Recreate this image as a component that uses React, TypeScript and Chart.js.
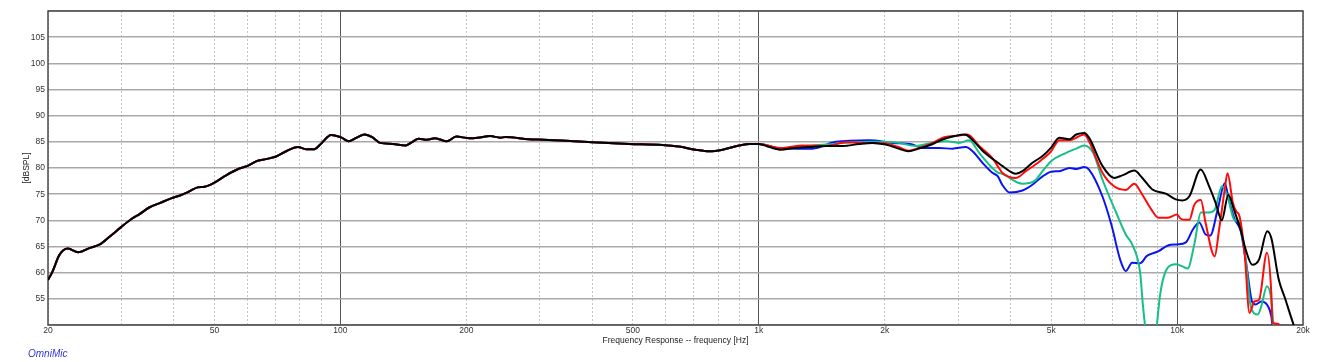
import React, { useEffect, useRef } from "react";
import { Chart, registerables } from "chart.js";

Chart.register(...registerables);

// Shared part of all four responses (20 Hz – 1 kHz)
const commonFreq = [
  20, 20.5, 21.3, 22.3, 23.6, 25.1, 26.6, 28.1, 29.9, 31.6, 33.1, 35.0, 37.0, 39.4, 41.2, 43.2,
  45.6, 47.3, 50.0, 53.3, 57.3, 60.0, 63.5, 66.4, 70.2, 74.2, 79.1, 82.8, 86.6, 89.8, 95.0,
  100.7, 104.6, 109.4, 114.2, 119.1, 124.4, 133.4, 143.1, 148.0, 153.8, 161.0, 168.3, 179.6,
  189.2, 203, 213, 228, 241, 248, 282, 305, 346, 401, 490, 588, 644, 706, 762, 820, 898, 953, 1000,
];
const commonSpl = [
  58.6, 60.2, 63.4, 64.6, 63.9, 64.7, 65.4, 66.9, 68.7, 70.2, 71.2, 72.5, 73.3, 74.2, 74.7, 75.4,
  76.3, 76.4, 77.2, 78.6, 79.9, 80.4, 81.4, 81.7, 82.2, 83.2, 84.0, 83.6, 83.6, 84.6, 86.3,
  85.8, 85.1, 85.8, 86.4, 85.9, 84.8, 84.6, 84.3, 84.9, 85.6, 85.4, 85.7, 85.1,
  86.0, 85.7, 85.8, 86.1, 85.8, 85.9, 85.5, 85.4, 85.2, 84.9, 84.6, 84.4, 84.1, 83.5, 83.2, 83.5, 84.3, 84.6, 84.6,
];

// Black curve above 1 kHz
const blackFreq = [
  1060, 1131, 1210, 1320, 1451, 1587, 1738, 1868, 2010, 2160, 2280, 2410, 2590, 2740, 2940, 3110,
  3220, 3470, 3730, 3820, 4120, 4270, 4510, 4770, 5000, 5230, 5530, 5740, 6000, 6160, 6630, 7070,
  7400, 7900, 8260, 8730, 9400, 9930, 10300, 10700, 11390, 11930, 12370, 12790, 13260, 13680,
  14190, 14590, 15130, 15700, 16430, 16800, 17500, 18100, 19000, 19600,
];
const blackSpl = [
  84.0, 83.5, 83.8, 84.0, 84.2, 84.2, 84.6, 84.8, 84.5, 83.7, 83.2, 83.7, 84.5, 85.4, 86.1, 86.4,
  85.6, 82.9, 81.0, 80.4, 78.9, 79.4, 81.0, 82.3, 83.9, 85.8, 85.5, 86.4, 86.7, 85.8, 80.4, 78.1,
  78.6, 79.5, 78.1, 75.9, 75.1, 74.0, 73.8, 74.6, 79.7, 76.5, 73.3, 70.0, 74.9, 72.0,
  68.2, 64.4, 61.5, 62.5, 67.9, 66.6, 58.7, 55.2, 50.0, 47.0,
];

// Red curve above 1 kHz
const redFreq = [
  1131, 1272, 1451, 1616, 1836, 2010, 2160, 2280, 2410, 2590, 2776, 3013, 3154, 3364, 3618, 3730,
  3820, 4120, 4350, 4700, 5000, 5230, 5530, 6000, 6160, 6630, 7070, 7540, 7900, 8260, 8660, 9030,
  9510, 10000, 10200, 10500, 10700, 11000, 11400, 11700, 12300, 12600, 13000, 13200, 13600,
  13850, 14100, 14500, 14900, 15300, 15700, 16400, 16800, 16900, 17500, 17700,
];
const redSpl = [
  83.8, 84.3, 84.2, 84.9, 84.8, 84.7, 84.0, 83.3, 83.8, 84.7, 85.9, 86.2, 86.4, 84.2, 81.9, 80.3,
  79.1, 78.1, 79.4, 81.3, 83.2, 85.3, 85.3, 86.4, 85.1, 79.1, 76.5, 75.8, 77.0, 74.9, 72.2, 70.5,
  70.5, 71.1, 70.3, 70.1, 70.1, 73.0, 73.9, 69.5, 63.1, 68.2, 75.9, 79.0, 73.3,
  71.7, 70.8, 63.8, 52.3, 54.5, 54.8, 63.8, 56.1, 50.4, 50.2, 48.0,
];

// Green curve above 1 kHz
const greenFreq = [
  1131, 1290, 1451, 1676, 1905, 2160, 2374, 2590, 2810, 3010, 3184, 3364, 3618, 3730, 3820, 4270,
  4560, 4770, 5000, 5430, 5740, 6000, 6300, 6630, 7160, 7540, 7810, 8160, 8290, 8470, 8700, 8870,
  9120, 9490, 9930, 10300, 10600, 11000, 11400, 11900, 12300, 12800, 13200, 13700, 14000, 14600,
  15000, 15600, 15900, 16400, 16800, 17000, 17300,
];
const greenSpl = [
  83.7, 84.2, 84.5, 84.9, 85.0, 84.8, 84.2, 84.8, 85.1, 84.8, 85.3, 82.9, 80.0, 79.1, 78.9, 77.0,
  77.5, 79.4, 81.3, 82.9, 83.7, 84.3, 82.9, 77.8, 71.4, 67.3, 65.4, 60.0, 53.6, 47.0, 42.0, 47.0,
  56.1, 60.9, 61.6, 61.2, 60.8, 65.5, 71.5, 71.5, 72.0, 76.5, 74.6, 70.1, 69.8, 62.5,
  53.6, 52.0, 53.6, 57.4, 54.8, 50.0, 47.0,
];

// Blue curve above 1 kHz
const blueFreq = [
  1131, 1344, 1529, 1836, 2088, 2330, 2463, 2700, 2904, 3126, 3244, 3426, 3618, 3730, 3820, 3980,
  4270, 4510, 4770, 5000, 5230, 5530, 5740, 6000, 6160, 6630, 6980, 7310, 7540, 7810, 8160, 8470,
  9030, 9510, 10000, 10500, 10900, 11300, 11700, 12000, 12500, 13000, 13300, 13700, 14200, 14700,
  15100, 15400, 15900, 16400, 16800, 16900, 17200,
];
const blueSpl = [
  83.7, 83.7, 85.0, 85.3, 84.8, 84.5, 83.8, 83.8, 83.7, 84.0, 83.2, 81.0, 79.1, 78.4, 76.8, 75.3,
  75.7, 76.8, 78.4, 79.3, 79.4, 80.0, 79.8, 80.2, 79.7, 74.6, 68.9, 62.5, 60.3, 61.9, 61.8, 63.2,
  64.1, 65.2, 65.4, 65.8, 68.2, 69.6, 67.3, 67.1, 72.0, 77.1, 73.9, 70.4, 67.9, 60.6,
  54.5, 53.9, 54.5, 53.9, 51.7, 50.0, 47.0,
];

// Axes
const xGridValues = [
  20, 30, 40, 50, 60, 70, 80, 90, 100, 200, 300, 400, 500, 600, 700, 800, 900, 1000,
  2000, 3000, 4000, 5000, 6000, 7000, 8000, 9000, 10000, 20000,
];
const xLabelValues = [20, 50, 100, 200, 500, 1000, 2000, 5000, 10000, 20000];
const xLabelTexts = ["20", "50", "100", "200", "500", "1k", "2k", "5k", "10k", "20k"];
const decadeValues = [100, 1000, 10000];
const yGridValues = [50, 55, 60, 65, 70, 75, 80, 85, 90, 95, 100, 105, 110];
const yLabelValues = [55, 60, 65, 70, 75, 80, 85, 90, 95, 100, 105];

const FONT = "'Liberation Sans', Arial, Helvetica, sans-serif";

const toPoints = (f: number[], s: number[]) => f.map((x, i) => ({ x, y: s[i] }));

export default function App() {
  const ref = useRef<HTMLCanvasElement | null>(null);

  useEffect(() => {
    document.body.style.margin = "0";
    const canvas = ref.current;
    if (!canvas) return;

    const frame = {
      id: "frame",
      beforeDatasetsDraw(chart: any) {
        const { ctx, chartArea: a } = chart;
        ctx.save();
        ctx.strokeStyle = "#4a4a4a";
        ctx.lineWidth = 1.5;
        ctx.strokeRect(a.left, a.top, a.right - a.left, a.bottom - a.top);
        ctx.restore();
      },
      afterDraw(chart: any) {
        const { ctx } = chart;
        ctx.save();
        ctx.font = `italic 10px ${FONT}`;
        ctx.fillStyle = "#3333dd";
        ctx.textBaseline = "middle";
        ctx.textAlign = "left";
        ctx.fillText("OmniMic", 28, 354);
        ctx.restore();
      },
    };

    const mk = (label: string, color: string, f: number[], s: number[]) => ({
      label,
      data: toPoints(commonFreq.concat(f), commonSpl.concat(s)),
      borderColor: color,
      backgroundColor: color,
      borderWidth: 2,
      pointRadius: 0,
      fill: false,
      cubicInterpolationMode: "monotone" as const,
    });

    // Chart.js draws the first dataset on top, so black comes first
    const chart = new Chart(canvas, {
      type: "line",
      data: {
        datasets: [
          mk("black", "#000000", blackFreq, blackSpl),
          mk("red", "#ff0a0a", redFreq, redSpl),
          mk("green", "#14bf8a", greenFreq, greenSpl),
          mk("blue", "#0a14f0", blueFreq, blueSpl),
        ],
      },
      options: {
        responsive: false,
        animation: false,
        devicePixelRatio: 1,
        layout: { padding: { left: 0, right: 14, top: 11, bottom: 0 } },
        plugins: { legend: { display: false }, tooltip: { enabled: false } },
        scales: {
          x: {
            type: "logarithmic",
            min: 20,
            max: 20000,
            afterBuildTicks: (s: any) => {
              s.ticks = xGridValues.map((v) => ({ value: v }));
            },
            afterFit: (s: any) => {
              s.height = 37;
              s.paddingLeft = 0;
              s.paddingRight = 0;
            },
            ticks: {
              autoSkip: false,
              maxRotation: 0,
              minRotation: 0,
              padding: 1,
              color: "#333",
              font: { family: FONT, size: 8.5 },
              callback: (v: any) => {
                const i = xLabelValues.indexOf(Number(v));
                return i >= 0 ? xLabelTexts[i] : "";
              },
            },
            grid: {
              drawTicks: false,
              color: (c: any) =>
                decadeValues.includes(c.tick?.value) ? "#555555" : "#c4c4c4",
              lineWidth: 1,
            },
            border: {
              display: false,
              dash: (c: any) => (decadeValues.includes(c.tick?.value) ? [] : [2, 2]),
            },
            title: {
              display: true,
              text: "Frequency Response -- frequency [Hz]",
              color: "#222",
              font: { family: FONT, size: 8.5 },
              padding: { top: 0, bottom: 16 },
            },
          },
          y: {
            type: "linear",
            min: 50,
            max: 110,
            afterBuildTicks: (s: any) => {
              s.ticks = yGridValues.map((v) => ({ value: v }));
            },
            afterFit: (s: any) => {
              s.width = 48;
            },
            ticks: {
              autoSkip: false,
              padding: 3,
              color: "#333",
              font: { family: FONT, size: 8.5 },
              callback: (v: any) => (yLabelValues.includes(Number(v)) ? String(v) : ""),
            },
            grid: {
              drawTicks: false,
              color: "#a9a9a9",
              lineWidth: 1.5,
            },
            border: { display: false },
            title: {
              display: true,
              text: "[dBSPL]",
              color: "#222",
              font: { family: FONT, size: 8.5 },
              padding: { top: 22, bottom: 0 },
            },
          },
        },
      },
      plugins: [frame],
    } as any);

    return () => chart.destroy();
  }, []);

  return (
    <div style={{ width: 1317, height: 362, background: "#fff" }}>
      <canvas ref={ref} width={1317} height={362} style={{ display: "block" }} />
    </div>
  );
}
